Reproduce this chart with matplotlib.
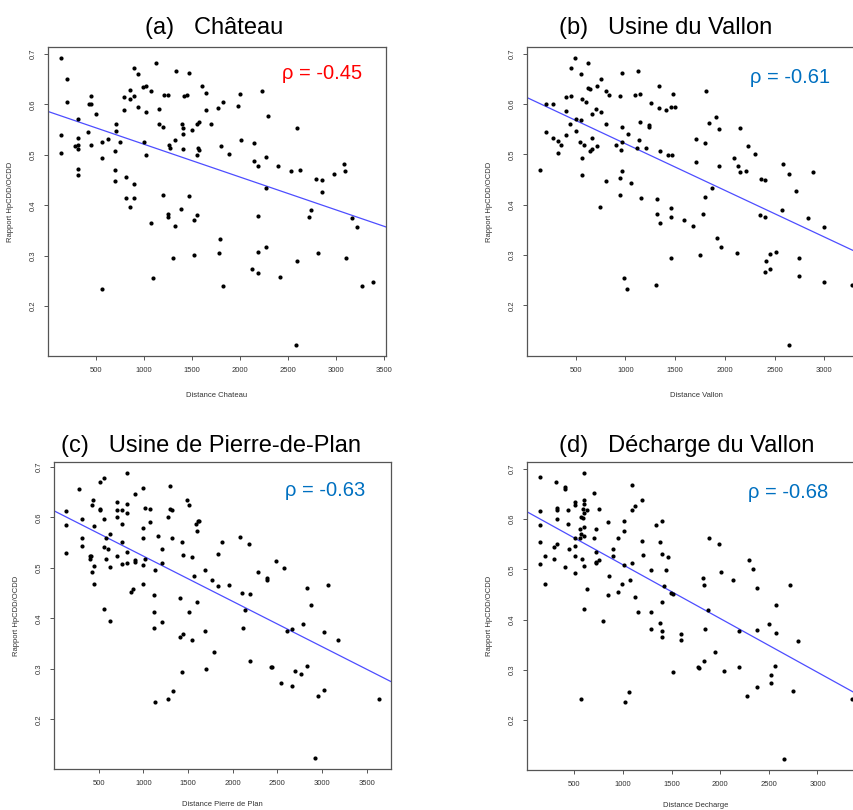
import numpy as np
import matplotlib
matplotlib.use("Agg")
import matplotlib.pyplot as plt

plt.rcParams['font.family'] = ['Liberation Sans', 'DejaVu Sans']

# values
titles = ["(a)   Château", "(b)   Usine du Vallon",
          "(c)   Usine de Pierre-de-Plan", "(d)   Décharge du Vallon"]
xlabels = ["Distance Chateau", "Distance Vallon",
           "Distance Pierre de Plan", "Distance Decharge"]
ylabel = "Rapport HpCDD/OCDD"
rho = [-0.45, -0.61, -0.63, -0.68]
rho_colors = ["#ff0000", "#0070c0", "#0070c0", "#0070c0"]

chateau_dist = [128, 191, 191, 128, 128, 309, 309, 274, 309, 309,
                309, 309, 413, 424, 441, 441, 441, 500, 556, 556,
                556, 625, 694, 694, 694, 708, 708, 750, 792, 792,
                812, 812, 854, 854, 854, 889, 889, 889, 896, 937,
                937, 986, 1021, 1021, 1021, 993, 1066, 1066, 1094, 1125,
                1156, 1156, 1191, 1198, 1205, 1253, 1253, 1253, 1260, 1267,
                1295, 1323, 1323, 1330, 1385, 1392, 1406, 1406, 1406, 1410,
                1441, 1469, 1469, 1493, 1521, 1521, 1552, 1552, 1562, 1573,
                1552, 1573, 1604, 1639, 1646, 1694, 1764, 1785, 1778, 1798,
                1826, 1826, 1885, 1979, 1993, 2010, 2146, 2139, 2187, 2226,
                2264, 2288, 2271, 2184, 2184, 2271, 2125, 2184, 2389, 2410,
                2531, 2594, 2628, 2590, 2583, 2795, 2851, 2851, 2733, 2719,
                2816, 2979, 3087, 3090, 3100, 3160, 3215, 3271, 3389]
chateau_ratio = [0.691, 0.650, 0.605, 0.540, 0.504, 0.571, 0.534, 0.518, 0.519, 0.512,
                 0.471, 0.460, 0.545, 0.601, 0.600, 0.617, 0.520, 0.581, 0.526, 0.493,
                 0.235, 0.532, 0.507, 0.470, 0.449, 0.561, 0.548, 0.526, 0.588, 0.615,
                 0.456, 0.414, 0.629, 0.611, 0.397, 0.673, 0.617, 0.443, 0.415, 0.660,
                 0.595, 0.634, 0.637, 0.585, 0.499, 0.526, 0.627, 0.365, 0.256, 0.682,
                 0.590, 0.561, 0.556, 0.420, 0.619, 0.618, 0.383, 0.377, 0.520, 0.513,
                 0.295, 0.358, 0.529, 0.666, 0.393, 0.562, 0.554, 0.541, 0.511, 0.617,
                 0.619, 0.662, 0.418, 0.550, 0.370, 0.301, 0.381, 0.561, 0.513, 0.565,
                 0.499, 0.509, 0.637, 0.622, 0.589, 0.561, 0.593, 0.334, 0.306, 0.517,
                 0.604, 0.241, 0.501, 0.596, 0.621, 0.530, 0.524, 0.487, 0.478, 0.627,
                 0.495, 0.576, 0.435, 0.379, 0.307, 0.317, 0.274, 0.266, 0.478, 0.258,
                 0.467, 0.554, 0.469, 0.290, 0.124, 0.452, 0.450, 0.427, 0.391, 0.377,
                 0.305, 0.462, 0.482, 0.467, 0.296, 0.374, 0.357, 0.241, 0.248]

vallon_dist = [137, 204, 204, 271, 271, 318, 318, 352, 405, 405,
               405, 446, 452, 452, 493, 499, 499, 540, 550, 553,
               560, 566, 566, 586, 607, 620, 620, 640, 640, 660,
               660, 667, 707, 720, 720, 741, 751, 757, 804, 804,
               804, 831, 908, 948, 948, 948, 955, 962, 962, 962,
               968, 982, 1019, 1029, 1056, 1099, 1119, 1129, 1136, 1146,
               1149, 1156, 1203, 1237, 1237, 1263, 1310, 1317, 1317, 1340,
               1340, 1350, 1350, 1404, 1458, 1501, 1481, 1428, 1474, 1458,
               1458, 1458, 1592, 1676, 1709, 1709, 1753, 1776, 1800, 1806,
               1810, 1840, 1867, 1910, 1917, 1944, 1940, 1957, 2121, 2088,
               2135, 2148, 2148, 2218, 2238, 2302, 2352, 2369, 2403, 2400,
               2400, 2413, 2450, 2450, 2510, 2580, 2587, 2641, 2641, 2718,
               2744, 2751, 2838, 2885, 2996, 2996, 3284]
vallon_ratio = [0.470, 0.544, 0.600, 0.600, 0.532, 0.526, 0.503, 0.519, 0.587, 0.539,
                0.614, 0.561, 0.616, 0.672, 0.691, 0.570, 0.546, 0.525, 0.569, 0.660,
                0.459, 0.493, 0.610, 0.519, 0.604, 0.682, 0.633, 0.630, 0.506, 0.533,
                0.511, 0.581, 0.590, 0.637, 0.517, 0.396, 0.650, 0.584, 0.561, 0.448,
                0.627, 0.619, 0.519, 0.617, 0.454, 0.419, 0.509, 0.662, 0.524, 0.468,
                0.554, 0.255, 0.233, 0.540, 0.443, 0.618, 0.513, 0.666, 0.528, 0.621,
                0.565, 0.414, 0.513, 0.559, 0.555, 0.603, 0.240, 0.412, 0.381, 0.592,
                0.637, 0.363, 0.507, 0.588, 0.595, 0.595, 0.620, 0.498, 0.498, 0.393,
                0.376, 0.294, 0.369, 0.357, 0.530, 0.486, 0.301, 0.381, 0.522, 0.416,
                0.627, 0.562, 0.433, 0.575, 0.334, 0.550, 0.477, 0.316, 0.305, 0.494,
                0.477, 0.553, 0.466, 0.468, 0.517, 0.501, 0.379, 0.452, 0.449, 0.376,
                0.266, 0.289, 0.303, 0.272, 0.306, 0.390, 0.481, 0.461, 0.122, 0.427,
                0.295, 0.258, 0.373, 0.466, 0.356, 0.247, 0.241]

pierre_dist = [138, 138, 138, 279, 316, 316, 316, 398, 398, 413,
               421, 421, 436, 443, 443, 443, 510, 510, 510, 562,
               562, 562, 562, 581, 581, 599, 629, 629, 629, 700,
               700, 700, 700, 759, 759, 759, 759, 819, 819, 819,
               819, 819, 856, 886, 901, 901, 901, 990, 990, 990,
               990, 990, 1013, 1020, 1072, 1072, 1121, 1121, 1124, 1128,
               1128, 1158, 1203, 1203, 1203, 1270, 1270, 1296, 1296, 1322,
               1322, 1329, 1411, 1411, 1433, 1445, 1448, 1433, 1493, 1508,
               1512, 1541, 1549, 1564, 1590, 1597, 1608, 1627, 1601, 1690,
               1690, 1705, 1772, 1787, 1835, 1835, 1880, 1962, 2085, 2182,
               2103, 2137, 2118, 2189, 2189, 2286, 2383, 2390, 2424, 2446,
               2483, 2539, 2573, 2610, 2666, 2669, 2699, 2762, 2785, 2837,
               2837, 2874, 2926, 2956, 3023, 3027, 3071, 3176, 3634]
pierre_ratio = [0.612, 0.585, 0.530, 0.656, 0.596, 0.559, 0.544, 0.517, 0.524, 0.524,
                0.624, 0.491, 0.634, 0.582, 0.503, 0.468, 0.670, 0.616, 0.614, 0.678,
                0.597, 0.541, 0.418, 0.559, 0.517, 0.537, 0.567, 0.501, 0.395, 0.630,
                0.615, 0.601, 0.523, 0.615, 0.587, 0.552, 0.508, 0.687, 0.626, 0.608,
                0.532, 0.509, 0.453, 0.458, 0.647, 0.516, 0.511, 0.659, 0.578, 0.559,
                0.505, 0.467, 0.517, 0.619, 0.616, 0.590, 0.446, 0.412, 0.380, 0.496,
                0.234, 0.562, 0.537, 0.510, 0.392, 0.601, 0.241, 0.662, 0.617, 0.614,
                0.559, 0.255, 0.441, 0.363, 0.552, 0.526, 0.368, 0.294, 0.634, 0.624,
                0.412, 0.521, 0.357, 0.484, 0.586, 0.573, 0.593, 0.593, 0.432, 0.496,
                0.374, 0.300, 0.475, 0.333, 0.464, 0.527, 0.551, 0.466, 0.560, 0.547,
                0.451, 0.416, 0.380, 0.448, 0.316, 0.492, 0.480, 0.476, 0.303, 0.304,
                0.514, 0.272, 0.499, 0.375, 0.378, 0.266, 0.296, 0.289, 0.389, 0.460,
                0.306, 0.426, 0.124, 0.247, 0.258, 0.372, 0.465, 0.356, 0.241]

decharge_dist = [141, 141, 141, 141, 141, 202, 202, 285, 285, 312,
                 319, 319, 319, 319, 401, 401, 401, 429, 429, 449,
                 507, 507, 507, 507, 507, 507, 562, 562, 569, 569,
                 569, 583, 590, 590, 597, 597, 597, 597, 597, 597,
                 597, 597, 631, 631, 703, 706, 717, 717, 717, 725,
                 748, 754, 796, 844, 857, 892, 898, 844, 950, 950,
                 991, 1012, 1012, 1012, 1018, 1066, 1070, 1094, 1094, 1094,
                 1128, 1128, 1156, 1197, 1200, 1204, 1289, 1289, 1289, 1334,
                 1378, 1378, 1402, 1402, 1402, 1402, 1402, 1426, 1440, 1461,
                 1492, 1512, 1509, 1601, 1601, 1824, 1828, 1773, 1780, 1831,
                 1841, 1879, 1886, 1944, 1992, 2006, 2040, 2136, 2191, 2191,
                 2277, 2297, 2335, 2373, 2376, 2380, 2503, 2517, 2520, 2572,
                 2572, 2568, 2654, 2716, 2747, 2795, 3360]
decharge_ratio = [0.683, 0.616, 0.588, 0.555, 0.511, 0.526, 0.471, 0.545, 0.520, 0.674,
                  0.623, 0.618, 0.600, 0.551, 0.663, 0.660, 0.504, 0.618, 0.591, 0.541,
                  0.635, 0.628, 0.562, 0.546, 0.526, 0.493, 0.581, 0.562, 0.570, 0.604,
                  0.241, 0.520, 0.621, 0.603, 0.691, 0.638, 0.630, 0.612, 0.585, 0.566,
                  0.507, 0.420, 0.618, 0.460, 0.651, 0.562, 0.581, 0.535, 0.514, 0.512,
                  0.519, 0.621, 0.398, 0.594, 0.487, 0.540, 0.526, 0.449, 0.455, 0.562,
                  0.470, 0.596, 0.577, 0.508, 0.235, 0.256, 0.478, 0.667, 0.619, 0.513,
                  0.626, 0.444, 0.415, 0.638, 0.557, 0.529, 0.499, 0.414, 0.382, 0.589,
                  0.394, 0.554, 0.596, 0.530, 0.377, 0.365, 0.435, 0.467, 0.499, 0.524,
                  0.453, 0.451, 0.295, 0.371, 0.359, 0.482, 0.468, 0.305, 0.303, 0.318,
                  0.382, 0.418, 0.563, 0.335, 0.550, 0.495, 0.297, 0.478, 0.377, 0.306,
                  0.248, 0.518, 0.501, 0.462, 0.379, 0.266, 0.392, 0.273, 0.290, 0.428,
                  0.374, 0.307, 0.123, 0.468, 0.258, 0.357, 0.241]

dists = [chateau_dist, vallon_dist, pierre_dist, decharge_dist]
ratios = [chateau_ratio, vallon_ratio, pierre_ratio, decharge_ratio]

W, H = 854, 810
# axes boxes in pixels: left, top, width, height
boxes = [(48, 47, 338, 309), (527, 47, 338, 309),
         (54, 462, 337, 307), (527, 462, 338, 308)]
xlabel_gap = [36, 36, 32, 32]
title_pos = [(214, 34), (666, 34), (211, 452), (687, 452)]
rho_pos = [(0.692, 0.913), (0.66, 0.90), (0.685, 0.906), (0.654, 0.90)]

fig = plt.figure(figsize=(W / 100, H / 100), dpi=100)

for i in range(4):
    x = np.array(dists[i], dtype=float)
    y = np.array(ratios[i])
    l, t, w, h = boxes[i]
    ax = fig.add_axes([l / W, 1 - (t + h) / H, w / W, h / H])

    ax.scatter(x, y, s=9, color="black", linewidths=0, zorder=3)

    # R style limits: data range plus 4 %
    rx = x.max() - x.min()
    ry = y.max() - y.min()
    ax.set_xlim(x.min() - 0.04 * rx, x.max() + 0.04 * rx)
    ax.set_ylim(y.min() - 0.04 * ry, y.max() + 0.04 * ry)

    # least squares line
    slope, intercept = np.polyfit(x, y, 1)
    ax.axline((0, intercept), slope=slope, color="#4d4dff", lw=0.9, zorder=2)

    ax.set_xticks(np.arange(500, x.max() + 0.04 * rx, 500))
    ax.set_yticks([0.2, 0.3, 0.4, 0.5, 0.6, 0.7])
    ax.set_yticklabels(["0.2", "0.3", "0.4", "0.5", "0.6", "0.7"])
    ax.tick_params(length=3, width=0.7, color="#555555", labelsize=5.5,
                   labelcolor="#333333", pad=5)
    ax.tick_params(axis="y", labelrotation=90)
    for lab in ax.get_yticklabels():
        lab.set_va("center")
    for sp in ax.spines.values():
        sp.set_color("#555555")
        sp.set_linewidth(0.9)

    ax.set_xlabel(xlabels[i], fontsize=5.5, color="#333333")
    ax.xaxis.set_label_coords(0.5, -xlabel_gap[i] / h)
    ax.set_ylabel(ylabel, fontsize=5.5, color="#333333")
    ax.yaxis.set_label_coords(-34 / w, 0.5)

    ax.text(rho_pos[i][0], rho_pos[i][1], "ρ = {:.2f}".format(rho[i]),
            transform=ax.transAxes, fontsize=14.5, color=rho_colors[i],
            ha="left", va="center")

    tx, ty = title_pos[i]
    fig.text(tx / W, 1 - ty / H, titles[i], fontsize=17, ha="center",
             va="baseline", color="black")

fig.savefig("out.png", dpi=100)
